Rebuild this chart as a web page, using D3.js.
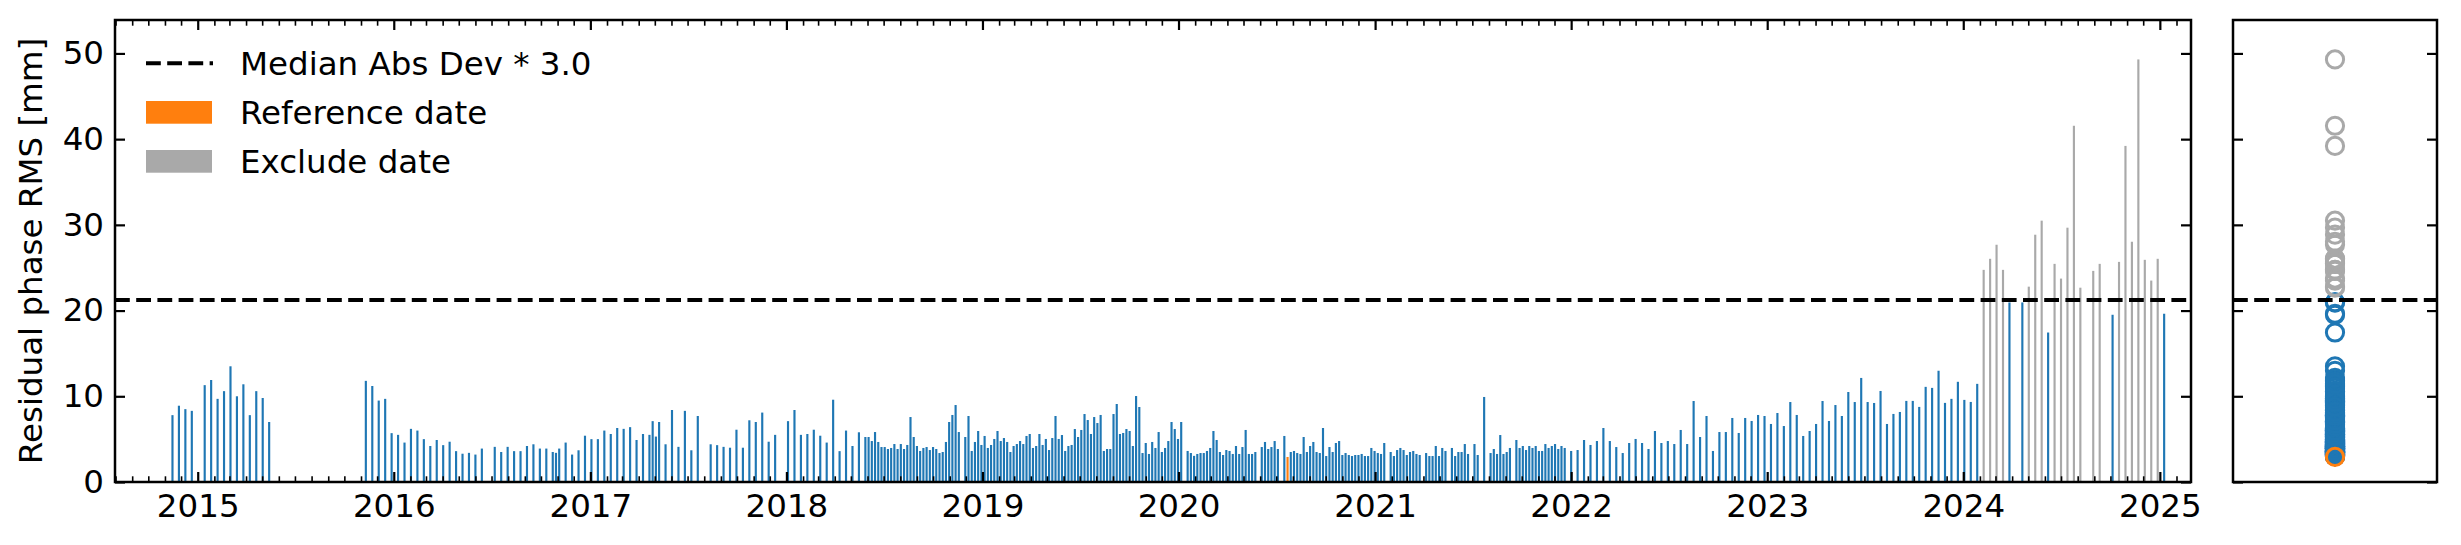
<!DOCTYPE html>
<html><head><meta charset="utf-8">
<script src="https://cdn.jsdelivr.net/npm/d3@7"></script>
<style>body{margin:0;background:#fff}svg{display:block}</style>
</head><body>
<script>
// ---------------- DATA ----------------
const dates = [
"2014-11-15","2014-11-27","2014-12-09","2014-12-21","2015-01-14","2015-01-26","2015-02-07","2015-02-19","2015-03-03","2015-03-15","2015-03-27","2015-04-08","2015-04-20","2015-05-02","2015-05-14",
"2015-11-10","2015-11-22","2015-12-04","2015-12-16","2015-12-28","2016-01-09","2016-01-21","2016-02-02","2016-02-14","2016-02-26","2016-03-09","2016-03-21","2016-04-02","2016-04-14","2016-04-26","2016-05-08","2016-05-20",
"2016-06-01","2016-06-13","2016-07-07","2016-07-19","2016-07-31","2016-08-12","2016-08-24","2016-09-05","2016-09-17","2016-09-29","2016-10-11","2016-10-23","2016-10-29","2016-11-04","2016-11-16","2016-11-28","2016-12-10","2016-12-22",
"2017-01-03","2017-01-15","2017-01-27","2017-02-08","2017-02-20","2017-03-04","2017-03-16","2017-03-28","2017-04-09","2017-04-21","2017-04-27","2017-05-03","2017-05-09","2017-05-21","2017-06-02","2017-06-14","2017-06-26","2017-07-08","2017-07-20","2017-08-13","2017-08-25","2017-09-06","2017-09-18","2017-09-30","2017-10-12","2017-10-24","2017-11-05","2017-11-17","2017-11-29","2017-12-11",
"2018-01-04","2018-01-16","2018-01-28","2018-02-09","2018-02-21","2018-03-05","2018-03-17","2018-03-29","2018-04-10","2018-04-22","2018-05-04","2018-05-16",
"2018-05-28","2018-06-03","2018-06-09","2018-06-15","2018-06-21","2018-06-27","2018-07-03","2018-07-09","2018-07-15","2018-07-21","2018-07-27","2018-08-02","2018-08-08","2018-08-14","2018-08-20","2018-08-26","2018-09-01","2018-09-07","2018-09-13","2018-09-19","2018-09-25","2018-10-01","2018-10-07","2018-10-13","2018-10-19","2018-10-25","2018-10-31","2018-11-06","2018-11-12","2018-11-18",
"2018-11-30","2018-12-06","2018-12-12","2018-12-18","2018-12-24","2018-12-30",
"2019-01-05","2019-01-11","2019-01-17","2019-01-23","2019-01-29","2019-02-04","2019-02-10","2019-02-16","2019-02-22","2019-02-28","2019-03-06","2019-03-12","2019-03-18","2019-03-24","2019-03-30","2019-04-05","2019-04-11","2019-04-17","2019-04-23","2019-04-29","2019-05-05","2019-05-11","2019-05-17","2019-05-23","2019-05-29","2019-06-04","2019-06-10","2019-06-16","2019-06-22","2019-06-28","2019-07-04","2019-07-10","2019-07-16","2019-07-22","2019-07-28","2019-08-03","2019-08-09","2019-08-15","2019-08-21","2019-08-27","2019-09-02","2019-09-08","2019-09-14","2019-09-20","2019-09-26","2019-10-02","2019-10-08","2019-10-14","2019-10-20","2019-10-26","2019-11-01","2019-11-07","2019-11-13","2019-11-19","2019-11-25","2019-12-01","2019-12-07","2019-12-13","2019-12-19","2019-12-25","2019-12-31",
"2020-01-06","2020-01-18","2020-01-24","2020-01-30","2020-02-05","2020-02-11","2020-02-17","2020-02-23","2020-02-29","2020-03-06","2020-03-12","2020-03-18","2020-03-24","2020-03-30","2020-04-05","2020-04-11","2020-04-17","2020-04-23","2020-04-29","2020-05-05","2020-05-11","2020-05-17","2020-05-23","2020-06-04","2020-06-10","2020-06-16","2020-06-22","2020-06-28","2020-07-04","2020-07-16","2020-07-22","2020-07-28","2020-08-03","2020-08-09","2020-08-15","2020-08-21","2020-08-27","2020-09-02","2020-09-08","2020-09-14","2020-09-20","2020-09-26","2020-10-02","2020-10-08","2020-10-14","2020-10-20","2020-10-26","2020-11-01","2020-11-07","2020-11-13","2020-11-19","2020-11-25","2020-12-01","2020-12-07","2020-12-13","2020-12-19","2020-12-25","2020-12-31",
"2021-01-06","2021-01-12","2021-01-18","2021-01-30","2021-02-05","2021-02-11","2021-02-17","2021-02-23","2021-03-01","2021-03-07","2021-03-13","2021-03-19","2021-03-25","2021-04-06","2021-04-12","2021-04-18","2021-04-24","2021-04-30","2021-05-06","2021-05-12","2021-05-24","2021-05-30","2021-06-05","2021-06-11","2021-06-17","2021-06-23","2021-07-05","2021-07-11","2021-07-23","2021-08-04","2021-08-10","2021-08-16","2021-08-22","2021-08-28","2021-09-03","2021-09-09","2021-09-21","2021-09-27","2021-10-03","2021-10-09","2021-10-15","2021-10-21","2021-10-27","2021-11-02","2021-11-08","2021-11-14","2021-11-20","2021-11-26","2021-12-02","2021-12-08","2021-12-14","2021-12-20",
"2022-01-01","2022-01-13","2022-01-25","2022-02-06","2022-02-18","2022-03-02","2022-03-14","2022-03-26","2022-04-07","2022-04-19","2022-05-01","2022-05-13","2022-05-25","2022-06-06","2022-06-18","2022-06-30","2022-07-12","2022-07-24","2022-08-05","2022-08-17","2022-08-29","2022-09-10","2022-09-22","2022-10-04","2022-10-16","2022-10-28","2022-11-09","2022-11-21","2022-12-03","2022-12-15","2022-12-27",
"2023-01-08","2023-01-20","2023-02-01","2023-02-13","2023-02-25","2023-03-09","2023-03-21","2023-04-02","2023-04-14","2023-04-26","2023-05-08","2023-05-20","2023-06-01","2023-06-13","2023-06-25","2023-07-07","2023-07-19","2023-07-31","2023-08-12","2023-08-24","2023-09-05","2023-09-17","2023-09-29","2023-10-11","2023-10-23","2023-11-04","2023-11-16","2023-11-28","2023-12-10","2023-12-22",
"2024-01-03","2024-01-15","2024-01-27","2024-02-08","2024-02-20","2024-03-03","2024-03-15","2024-03-27","2024-04-20","2024-05-02","2024-05-14","2024-05-26","2024-06-07","2024-06-19","2024-07-01","2024-07-13","2024-07-25","2024-08-06","2024-08-30","2024-09-11","2024-10-05","2024-10-17","2024-10-29","2024-11-10","2024-11-22","2024-12-04","2024-12-16","2024-12-28","2025-01-09"
];
const rmsValues = [
7.8,8.9,8.5,8.3,11.3,11.9,9.7,10.6,13.5,10.0,11.4,7.8,10.6,9.8,7.0,
11.8,11.2,9.5,9.7,5.7,5.5,4.6,6.2,6.0,5.0,4.2,4.9,4.3,4.7,3.6,3.3,3.4,
3.2,3.9,4.1,3.5,4.1,3.6,3.6,4.2,4.4,3.9,3.9,3.5,3.4,3.9,4.6,3.2,3.7,5.4,
5.0,5.0,6.0,5.6,6.3,6.2,6.4,4.9,5.6,5.5,7.1,5.3,7.0,4.4,8.4,4.1,8.3,3.7,7.7,4.4,4.3,4.1,4.0,6.1,4.0,7.2,7.0,8.1,4.7,5.5,
7.1,8.4,5.5,5.6,6.1,5.4,4.6,9.6,3.6,6.0,4.2,5.8,
5.25,5.25,4.78,5.83,4.67,4.08,4.08,3.85,3.97,4.43,3.85,4.43,3.85,4.32,7.58,5.25,4.20,3.62,3.97,4.08,3.73,4.08,3.85,3.38,3.50,4.67,7.00,7.82,8.98,5.83,
5.25,7.70,3.62,4.67,5.95,4.32,
5.37,3.97,4.32,5.02,5.95,4.78,5.13,4.67,3.50,4.20,4.43,4.78,4.43,5.37,5.60,3.97,4.20,5.60,4.32,5.02,3.73,5.13,7.70,5.02,5.48,3.62,4.20,4.32,6.18,5.25,6.07,7.93,7.23,5.60,7.58,6.88,7.82,3.62,3.85,3.85,7.93,9.10,5.60,5.72,6.18,5.95,4.20,10.03,8.75,3.38,4.55,3.27,4.67,3.97,5.83,3.50,3.97,4.78,7.00,6.18,5.02,
7.00,3.62,3.38,3.05,3.27,3.38,3.38,3.62,3.97,5.95,4.90,3.50,3.15,3.73,3.62,3.27,4.20,3.27,4.08,6.07,3.27,3.27,3.50,4.08,4.67,3.85,4.08,4.78,3.85,5.37,2.92,3.50,3.62,3.38,3.27,5.25,3.50,4.20,4.67,3.50,3.38,6.30,3.03,4.08,3.50,4.55,4.78,3.15,3.38,3.15,3.03,3.15,3.15,3.27,3.03,3.03,3.97,3.62,
3.38,3.27,4.55,3.50,3.03,3.73,3.97,3.73,3.15,3.50,3.62,3.27,3.15,3.38,3.03,3.03,4.20,3.03,3.97,3.62,3.97,3.03,3.50,3.50,4.43,3.27,4.43,3.15,9.92,3.38,3.85,3.27,5.48,3.27,3.50,3.97,4.90,3.97,4.20,3.73,4.20,3.97,4.20,3.62,3.62,4.43,3.97,4.20,4.43,3.85,4.20,3.97,
3.62,3.73,4.90,4.32,4.78,6.30,4.78,4.08,3.38,4.55,5.02,4.55,3.85,5.95,4.55,4.78,4.43,6.07,4.43,9.45,5.25,7.70,3.62,5.83,5.83,7.47,5.72,7.47,7.12,7.82,7.70,
6.77,8.05,6.53,9.33,7.82,5.37,5.95,6.77,9.45,7.12,8.98,7.70,10.50,9.33,12.14,9.33,9.22,10.62,6.77,7.94,8.17,9.46,9.46,8.76,11.10,10.98,12.98,9.23,9.70,11.69,
9.58,9.34,11.45,24.75,26.04,27.68,24.75,20.95,20.95,22.79,28.85,30.49,17.44,25.45,23.73,29.67,41.56,22.67,24.63,25.45,19.51,25.68,39.21,28.03,49.30,25.92,23.50,26.04,19.63
];
const excludeDates = ["2024-02-08","2024-02-20","2024-03-03","2024-03-15","2024-05-02","2024-05-14","2024-05-26","2024-06-19","2024-07-01","2024-07-13","2024-07-25","2024-08-06","2024-08-30","2024-09-11","2024-10-17","2024-10-29","2024-11-10","2024-11-22","2024-12-04","2024-12-16","2024-12-28"];
const referenceDate = "2020-07-22";
const thresholdValue = 21.24;
const yTickValues = [0,10,20,30,40,50];
const xTickYears = [2015,2016,2017,2018,2019,2020,2021,2022,2023,2024,2025];
const legendLabels = ["Median Abs Dev * 3.0","Reference date","Exclude date"];
const yAxisLabel = "Residual phase RMS [mm]";

// ---------------- STYLE / LAYOUT ----------------
const W = 2461, H = 545;
const M = {l:115, r:2191, t:20, b:482};
const S = {l:2233, r:2437, t:20, b:482};
const FONT = "'DejaVu Sans', sans-serif";
const FS = 32.5;
const C_BLUE = "#1f77b4", C_ORANGE = "#ff7f0e", C_GRAY = "#a9a9a9";
const DASH = "14.8,6.4";

const parse = d3.utcParse("%Y-%m-%d");
const data = dates.map((d,i)=>({date:parse(d), key:d, v:rmsValues[i]}));
const exclSet = new Set(excludeDates);
const colorOf = d => d.key===referenceDate ? C_ORANGE : (exclSet.has(d.key) ? C_GRAY : C_BLUE);

const svg = d3.select("body").append("svg").attr("width",W).attr("height",H)
  .style("font-family",FONT);
svg.append("rect").attr("width",W).attr("height",H).attr("fill","#fff");

const x = d3.scaleUtc().domain([Date.UTC(2014,6,31), Date.UTC(2025,1,28)]).range([M.l, M.r]);
const y = d3.scaleLinear().domain([0,53.9]).range([M.b, M.t]);
const DAY = 86400000;

// bars
svg.append("g").selectAll("rect").data(data).join("rect")
  .attr("x", d=>x(new Date(+d.date-2*DAY)))
  .attr("width", d=>x(new Date(+d.date+2*DAY))-x(new Date(+d.date-2*DAY)))
  .attr("y", d=>y(d.v)).attr("height", d=>y(0)-y(d.v))
  .attr("fill", colorOf);

// threshold line main
svg.append("line").attr("x1",M.l).attr("x2",M.r).attr("y1",y(thresholdValue)).attr("y2",y(thresholdValue))
  .attr("stroke","#000").attr("stroke-width",4).attr("stroke-dasharray",DASH);

// axes main
const yearDates = xTickYears.map(yr=>new Date(Date.UTC(yr,0,1)));
const monthDates = d3.utcMonth.range(x.domain()[0], x.domain()[1]).filter(d=>d.getUTCMonth()!==0);

function styleAxis(g, w){
  g.select(".domain").remove();
  g.selectAll(".tick line").attr("stroke","#000").attr("stroke-width",w);
  g.selectAll("text").attr("fill","#000").attr("font-size",FS).attr("font-family",FONT);
}
const gxb = svg.append("g").attr("transform",`translate(0,${M.b})`)
  .call(d3.axisBottom(x).tickValues(yearDates).tickSize(-10).tickPadding(11.6).tickFormat(d3.utcFormat("%Y")));
styleAxis(gxb,2.2);
const gxbm = svg.append("g").attr("transform",`translate(0,${M.b})`)
  .call(d3.axisBottom(x).tickValues(monthDates).tickSize(-5.7).tickFormat(""));
styleAxis(gxbm,1.6);
const gxt = svg.append("g").attr("transform",`translate(0,${M.t})`)
  .call(d3.axisTop(x).tickValues(yearDates).tickSize(-10).tickFormat(""));
styleAxis(gxt,2.2);
const gxtm = svg.append("g").attr("transform",`translate(0,${M.t})`)
  .call(d3.axisTop(x).tickValues(monthDates).tickSize(-5.7).tickFormat(""));
styleAxis(gxtm,1.6);
const gyl = svg.append("g").attr("transform",`translate(${M.l},0)`)
  .call(d3.axisLeft(y).tickValues(yTickValues).tickSize(-10).tickPadding(11).tickFormat(d3.format("d")));
styleAxis(gyl,2.2);
const gyr = svg.append("g").attr("transform",`translate(${M.r},0)`)
  .call(d3.axisRight(y).tickValues(yTickValues).tickSize(-10).tickFormat(""));
styleAxis(gyr,2.2);
svg.append("rect").attr("x",M.l).attr("y",M.t).attr("width",M.r-M.l).attr("height",M.b-M.t)
  .attr("fill","none").attr("stroke","#000").attr("stroke-width",2.5);

// y label
svg.append("text").attr("transform",`translate(31,${(M.t+M.b)/2}) rotate(-90)`)
  .attr("text-anchor","middle").attr("dy","0.35em").attr("font-size",FS).attr("fill","#000")
  .text(yAxisLabel);

// legend
const lg = svg.append("g");
const rowsY = [63.3,112.3,161.3];
lg.append("line").attr("x1",146).attr("x2",213).attr("y1",rowsY[0]).attr("y2",rowsY[0])
  .attr("stroke","#000").attr("stroke-width",4).attr("stroke-dasharray",DASH);
lg.append("rect").attr("x",146).attr("y",rowsY[1]-11.3).attr("width",66).attr("height",22.7).attr("fill",C_ORANGE);
lg.append("rect").attr("x",146).attr("y",rowsY[2]-11.3).attr("width",66).attr("height",22.7).attr("fill",C_GRAY);
legendLabels.forEach((t,i)=>{
  lg.append("text").attr("x",240).attr("y",rowsY[i]+11.5).attr("font-size",FS).attr("fill","#000").text(t);
});

// side panel
const cx = (S.l+S.r)/2;
const ys = d3.scaleLinear().domain(y.domain()).range([S.b,S.t]);
const sideOrder = [...data.filter(d=>colorOf(d)===C_BLUE), ...data.filter(d=>colorOf(d)===C_GRAY), ...data.filter(d=>colorOf(d)===C_ORANGE)];
svg.append("g").selectAll("circle").data(sideOrder).join("circle")
  .attr("cx",cx).attr("cy",d=>ys(d.v)).attr("r",8.6)
  .attr("fill","none").attr("stroke",colorOf).attr("stroke-width",3);
svg.append("line").attr("x1",S.l).attr("x2",S.r).attr("y1",ys(thresholdValue)).attr("y2",ys(thresholdValue))
  .attr("stroke","#000").attr("stroke-width",4).attr("stroke-dasharray",DASH);
const gsl = svg.append("g").attr("transform",`translate(${S.l},0)`)
  .call(d3.axisLeft(ys).tickValues(yTickValues).tickSize(-10).tickFormat(""));
styleAxis(gsl,2.2);
const gsr = svg.append("g").attr("transform",`translate(${S.r},0)`)
  .call(d3.axisRight(ys).tickValues(yTickValues).tickSize(-10).tickFormat(""));
styleAxis(gsr,2.2);
svg.append("rect").attr("x",S.l).attr("y",S.t).attr("width",S.r-S.l).attr("height",S.b-S.t)
  .attr("fill","none").attr("stroke","#000").attr("stroke-width",2.5);
</script>
</body></html>
